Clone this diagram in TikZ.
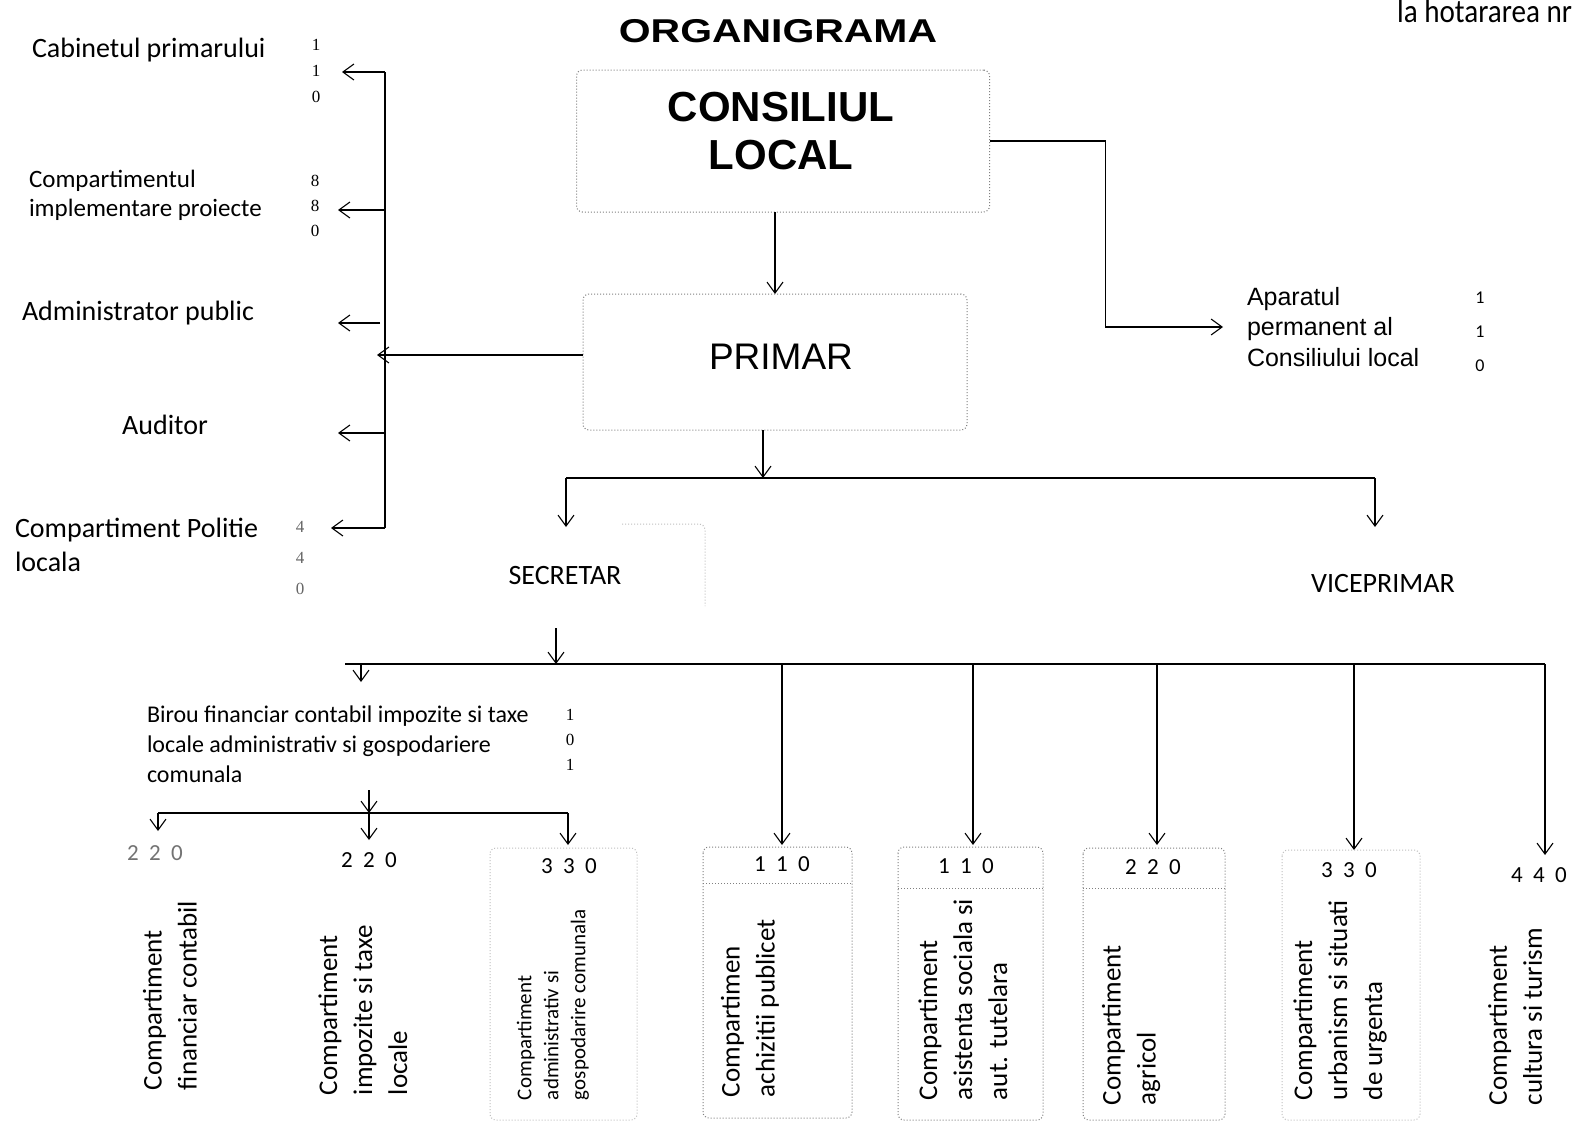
\documentclass[tikz,border=0pt]{standalone}
\usepackage{fontspec}
\setmainfont{Carlito}
\newfontfamily\arialf{Liberation Sans}
\newfontfamily\serf{Liberation Serif}
\usetikzlibrary{arrows.meta}
\newcommand{\dg}[3]{#1\hspace{0.45em}#2\hspace{0.45em}#3}
\begin{document}
\begin{tikzpicture}[x=1pt,y=-1pt,
  every node/.style={inner sep=0pt, outer sep=0pt},
  arr/.style={line width=1.3pt, -{Straight Barb[length=11pt,width=16pt,line width=1.1pt]}},
  ln/.style={line width=1.3pt},
  lbl/.style={font=\fontsize{28}{34}\selectfont, align=left, anchor=west},
  snum/.style={font=\serf\fontsize{17}{26}\selectfont, align=center},
  cnum/.style={font=\fontsize{23}{24}\selectfont},
  col/.style={rotate=90, anchor=west, align=left, font=\fontsize{27}{35}\selectfont},
  dbox/.style={draw=black!50, dotted, line width=1pt, rounded corners=6pt},
  fbox/.style={draw=black!25, dotted, line width=1pt, rounded corners=6pt},
]
\useasboundingbox (0,0) rectangle (1575,1128);
\fill[white] (0,0) rectangle (1575,1128);
\clip (0,0) rectangle (1575,1128);

% header
\node[font=\fontsize{30}{30}\selectfont, anchor=base east] (hdr) at (1572,22) {\scalebox{0.97}[1.1]{la hotararea nr}};
\node[font=\arialf\bfseries\fontsize{33}{33}\selectfont] (title) at (778,31) {\scalebox{1.24}[1]{ORGANIGRAMA}};

% top boxes
\node[dbox, minimum width=413pt, minimum height=142pt] (cl) at (783,141) {};
\node[font=\arialf\bfseries\fontsize{42}{48}\selectfont, align=center] (cltext) at (781,131) {CONSILIUL\\LOCAL};
\node[dbox, minimum width=384pt, minimum height=136pt] (pr) at (775,362) {};
\node[font=\arialf\fontsize{37}{40}\selectfont] (prtext) at (781,357) {PRIMAR};

\draw[arr] (cl.south -| pr.north) -- (pr.north);

% aparatul
\node[font=\arialf\fontsize{25}{30.5}\selectfont, align=left, anchor=west] (apt) at (1247,327) {Aparatul\\permanent al\\Consiliului local};
\node[font=\fontsize{18}{34}\selectfont, align=center] (aptn) at (1480,332) {1\\1\\0};
\draw[arr, shorten >=24pt] (cl.east) -- ++(116,0) |- (apt.west);

% left side labels
\node[lbl] (cab) at (32,50) {Cabinetul primarului};
\node[snum] (cabn) at (316,71) {1\\1\\0};
\node[lbl, font=\fontsize{25}{29}\selectfont] (cip) at (29,195) {Compartimentul\\implementare proiecte};
\node[snum, font=\serf\fontsize{17}{25}\selectfont] (cipn) at (315,206) {8\\8\\0};
\node[lbl] (adm) at (22,313) {Administrator public};
\node[font=\fontsize{28}{34}\selectfont] (aud) at (165,425) {Auditor};
\node[lbl] (pol) at (15,545) {Compartiment Politie\\locala};
\node[snum, font=\serf\fontsize{17}{31}\selectfont, text=black!60] (poln) at (300,558) {4\\4\\0};

% left bus
\coordinate (bT) at (385,72);
\coordinate (bB) at (385,528);
\coordinate (tCab) at (342,72);
\coordinate (tCip) at (338,210);
\coordinate (sAdm) at (380,323);
\coordinate (tAdm) at (338,323);
\coordinate (tAud) at (338,433);
\coordinate (tPol) at (331,528);
\coordinate (tPr) at (377,355);
\draw[ln] (bT) -- (bB);
\draw[arr] (bT) -- (tCab);
\draw[arr] (bT |- tCip) -- (tCip);
\draw[arr] (sAdm) -- (tAdm);
\draw[arr] (bT |- tAud) -- (tAud);
\draw[arr] (bB) -- (tPol);
\draw[arr] ([yshift=7pt]pr.west) -- (tPr);

% primar -> secretar / viceprimar
\coordinate (jA) at (763,478);
\coordinate (hL) at (566,478);
\coordinate (hR) at (1375,478);
\draw[arr] ([xshift=-12pt]pr.south) -- (jA);
\draw[ln] (hL) -- (hR);
\node[font=\fontsize{28}{30}\selectfont] (sec) at (565,576) {SECRETAR};
\node[font=\fontsize{28}{30}\selectfont] (vice) at (1383,584) {VICEPRIMAR};
\coordinate (tSec) at (566,527);
\coordinate (tVice) at (1375,527);
\draw[arr] (hL) -- (tSec);
\draw[arr] (hR) -- (tVice);
\draw[fbox] (622,524) -| (705,606);

% secretar -> departments
\coordinate (sA) at (556,628);
\coordinate (mL) at (345,664);
\coordinate (mR) at (1545,664);
\draw[arr] (sA) -- (sA |- mL);
\draw[ln] (mL) -- (mR);
\coordinate (tBir) at (361,682);
\draw[arr] (tBir |- mL) -- (tBir);

% birou
\node[font=\fontsize{24}{30}\selectfont, align=left, anchor=north west] (bir) at (147,706) {Birou financiar contabil impozite si taxe\\locale administrativ si gospodariere\\comunala};
\node[snum, font=\serf\fontsize{17}{25}\selectfont] (birn) at (570,740) {1\\0\\1};
\coordinate (bS) at (369,790);
\coordinate (sL) at (158,813);
\coordinate (sR) at (568,813);
\draw[arr] (bS) -- (bS |- sL);
\draw[ln] (sL) -- (sR);
\draw[arr] (sL) -- ++(0,18);
\draw[arr] (bS |- sL) -- (369,840);
\draw[arr] (sR) -- (568,845);

% columns from main line
\draw[arr] (782,664) -- (782,845);
\draw[arr] (973,664) -- (973,845);
\draw[arr] (1157,664) -- (1157,845);
\draw[arr] (1354,664) -- (1354,850);
\draw[arr] (mR) -- (1545,855);

% boxes
\draw[fbox] (490,848) rectangle (637,1120);
\draw[dbox] (703,847) rectangle (852,1118);
\draw[dbox] (703,883) -- (852,883);
\draw[dbox] (898,847) rectangle (1043,1120);
\draw[dbox] (898,888) -- (1043,888);
\draw[dbox] (1083,848) rectangle (1225,1120);
\draw[dbox] (1083,888) -- (1225,888);
\draw[fbox] (1282,850) rectangle (1420,1120);

% numbers
\node[cnum, text=black!55] (n1) at (155,853) {\dg220};
\node[cnum] (n2) at (369,860) {\dg220};
\node[cnum] (n3) at (569,866) {\dg330};
\node[cnum] (n4) at (782,864) {\dg110};
\node[cnum] (n5) at (966,866) {\dg110};
\node[cnum] (n6) at (1153,867) {\dg220};
\node[cnum] (n7) at (1349,870) {\dg330};
\node[cnum] (n8) at (1539,875) {\dg440};

% rotated texts
\node[col] (c1) at (170,1090) {Compartiment\\financiar contabil};
\node[col] (c2) at (363,1095) {Compartiment\\impozite si taxe\\locale};
\node[col, font=\fontsize{21}{27}\selectfont] (c3) at (553,1100) {Compartiment\\administrativ si\\gospodarire comunala};
\node[col] (c4) at (750,1097) {Compartimen\\achizitii publicet};
\node[col] (c5) at (963,1100) {Compartiment\\asistenta sociala si\\aut. tutelara};
\node[col] (c6) at (1131,1105) {Compartiment\\agricol};
\node[col] (c7) at (1340,1100) {Compartiment\\urbanism si situati\\de urgenta};
\node[col] (c8) at (1515,1105) {Compartiment\\cultura si turism};
\end{tikzpicture}
\end{document}
